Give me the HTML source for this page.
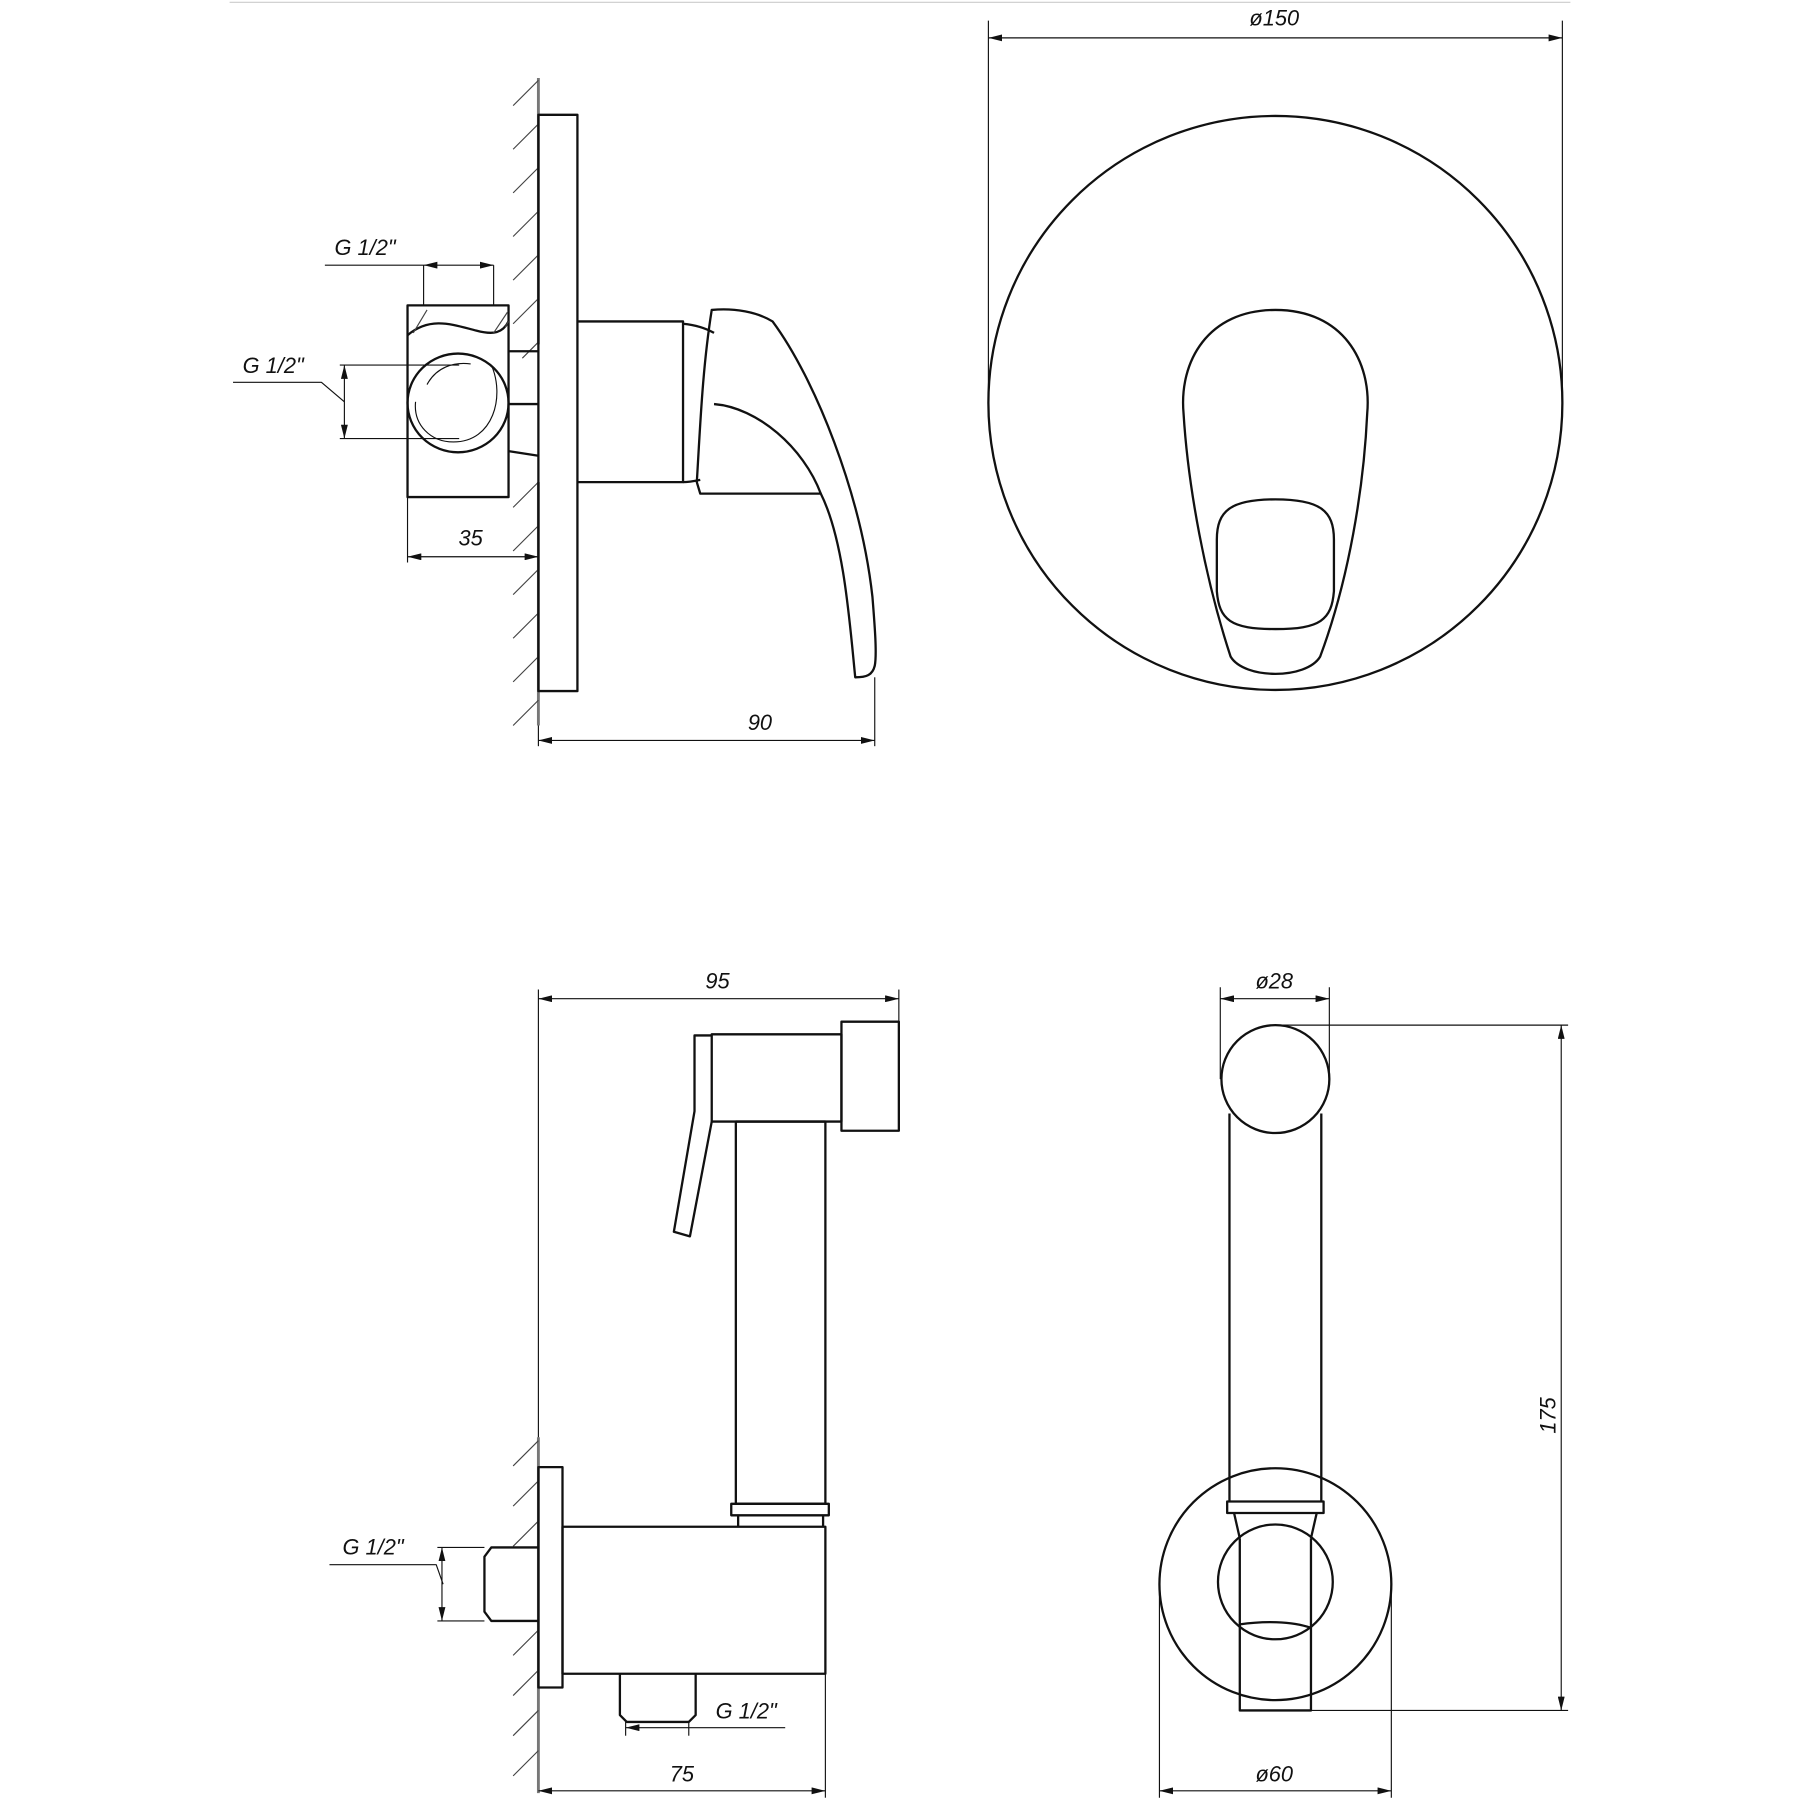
<!DOCTYPE html>
<html><head><meta charset="utf-8"><style>
html,body{margin:0;padding:0;background:#fff;}
svg{display:block;}
text{font-family:"Liberation Sans",sans-serif;font-style:italic;font-size:19px;fill:#111;}
</style></head><body>
<svg width="1800" height="1800" viewBox="0 0 1568 1568" xmlns="http://www.w3.org/2000/svg">
<defs>
<marker id="a" viewBox="0 0 12 6" refX="12" refY="3" markerWidth="12" markerHeight="6" orient="auto-start-reverse" markerUnits="userSpaceOnUse"><path d="M0,0 L12,3 L0,6 Z" fill="#111"/></marker>
</defs>
<line x1="200" y1="2" x2="1368" y2="2" stroke="#ccc" stroke-width="1"/>
<g fill="none" stroke="#111" stroke-width="2" stroke-linejoin="round">
<!-- TOP LEFT -->
<line x1="469" y1="68" x2="469" y2="300" stroke="#777" stroke-width="2.5"/>
<line x1="469" y1="420" x2="469" y2="632" stroke="#777" stroke-width="2.5"/>
<g stroke-width="1" stroke="#444">
<path d="M469,70 L447,92 M469,108 L447,130 M469,146 L447,168 M469,184 L447,206 M469,222 L447,244 M469,260 L447,282 M469,298 L455,312 M469,420 L447,442 M469,458 L447,480 M469,496 L447,518 M469,534 L447,556 M469,572 L447,594 M469,610 L447,632"/>
</g>
<rect x="469" y="100" width="34" height="502"/>
<path d="M503,280 H595 V420 H503"/>
<path d="M595,282 C605,283 615,286 622,290 M595,420 C600,420 605,419 610,418"/>
<path d="M610,430 L607,420 C610,370 612,320 620,270 C640,268 660,272 673,280 C710,330 750,430 760,520 C762,545 764,570 762,580 C760,588 755,590 745,590 C740,540 735,470 715,430 Z"/>
<path d="M622,352 C660,355 700,390 715,430"/>
<!-- fitting -->
<rect x="355" y="266" width="88" height="167"/>
<path d="M355,292 C375,275 395,283 415,288 C430,292 438,290 443,280"/>
<g stroke-width="1" stroke="#444"><path d="M360,290 L372,270 M430,290 L442,272 M440,285 L443,280"/></g>
<line x1="369" y1="231" x2="369" y2="266" stroke-width="1"/>
<line x1="430" y1="231" x2="430" y2="266" stroke-width="1"/>
<ellipse cx="399" cy="351" rx="44" ry="43"/>
<path d="M428,318 C440,345 430,385 395,385 C375,385 360,370 362,350 M372,335 C380,320 395,315 410,317" stroke-width="1"/>
<path d="M443,306 H469 M443,352 H469 M443,393 L469,397"/>
<!-- dims -->
<g stroke-width="1">
<line x1="283" y1="231" x2="369" y2="231"/>
<line x1="369" y1="231" x2="430" y2="231" marker-start="url(#a)" marker-end="url(#a)"/>
<path d="M203,333 H280 L300,350"/>
<line x1="300" y1="318" x2="300" y2="382" marker-start="url(#a)" marker-end="url(#a)"/>
<line x1="296" y1="318" x2="400" y2="318"/>
<line x1="296" y1="382" x2="400" y2="382"/>
<line x1="355" y1="433" x2="355" y2="490"/>
<line x1="355" y1="485" x2="469" y2="485" marker-start="url(#a)" marker-end="url(#a)"/>
<line x1="469" y1="632" x2="469" y2="650"/>
<line x1="762" y1="590" x2="762" y2="650"/>
<line x1="469" y1="645" x2="762" y2="645" marker-start="url(#a)" marker-end="url(#a)"/>
</g>
<!-- TOP RIGHT -->
<circle cx="1111" cy="351" r="250"/>
<path d="M1111,270 C1170,270 1195,315 1191,360 C1188,425 1175,505 1150,572 C1138,592 1084,592 1072,572 C1050,505 1035,425 1031,360 C1027,315 1052,270 1111,270 Z"/>
<path d="M1111,435 C1150,435 1162,445 1162,470 L1162,515 C1160,540 1150,548 1111,548 C1072,548 1062,540 1060,515 L1060,470 C1060,445 1072,435 1111,435 Z"/>
<g stroke-width="1">
<line x1="861" y1="18" x2="861" y2="351"/>
<line x1="1361" y1="18" x2="1361" y2="351"/>
<line x1="861" y1="33" x2="1361" y2="33" marker-start="url(#a)" marker-end="url(#a)"/>
</g>
<!-- BOTTOM LEFT -->
<line x1="469" y1="1252" x2="469" y2="1562" stroke="#777" stroke-width="2.5"/>
<g stroke-width="1" stroke="#444">
<path d="M469,1255 L447,1277 M469,1290 L447,1312 M469,1325 L447,1347 M469,1420 L447,1442 M469,1455 L447,1477 M469,1490 L447,1512 M469,1525 L447,1547"/>
</g>
<rect x="469" y="1278" width="21" height="192"/>
<rect x="490" y="1330" width="229" height="128"/>
<path d="M469,1348 H428 L422,1356 V1404 L428,1412 H469"/>
<path d="M540,1458 V1494 L546,1500 H600 L606,1494 V1458"/>
<rect x="641" y="977" width="78" height="333"/>
<rect x="637" y="1310" width="85" height="10"/>
<path d="M643,1320 V1330 M717,1320 V1330"/>
<rect x="620" y="901" width="113" height="76"/>
<rect x="733" y="890" width="50" height="95"/>
<path d="M620,902 H605 V968 L587,1073 L601,1077 L620,977"/>
<g stroke-width="1">
<line x1="469" y1="862" x2="469" y2="1252"/>
<line x1="783" y1="862" x2="783" y2="890"/>
<line x1="469" y1="870" x2="783" y2="870" marker-start="url(#a)" marker-end="url(#a)"/>
<path d="M287,1363 H380 L386,1380"/>
<line x1="385" y1="1348" x2="385" y2="1412" marker-start="url(#a)" marker-end="url(#a)"/>
<line x1="381" y1="1348" x2="422" y2="1348"/>
<line x1="381" y1="1412" x2="422" y2="1412"/>
<line x1="545" y1="1500" x2="545" y2="1512"/>
<line x1="600" y1="1500" x2="600" y2="1512"/>
<line x1="545" y1="1505" x2="600" y2="1505" marker-start="url(#a)"/>
<line x1="600" y1="1505" x2="684" y2="1505"/>
<line x1="719" y1="1458" x2="719" y2="1566"/>
<line x1="469" y1="1560" x2="719" y2="1560" marker-start="url(#a)" marker-end="url(#a)"/>
</g>
<!-- BOTTOM RIGHT -->
<circle cx="1111" cy="1380" r="101"/>
<rect x="1069" y="1308" width="84" height="10"/>
<path d="M1071,1308 V970 M1151,1308 V970"/>
<circle cx="1111" cy="940" r="47" fill="#fff"/>
<path d="M1075,1318 L1080,1340 M1147,1318 L1142,1340"/>
<circle cx="1111" cy="1378" r="50"/>
<path d="M1080,1340 V1490 H1142 V1340 M1080,1415 C1100,1412 1125,1412 1142,1418"/>
<g stroke-width="1">
<line x1="1063" y1="860" x2="1063" y2="940"/>
<line x1="1158" y1="860" x2="1158" y2="940"/>
<line x1="1063" y1="870" x2="1158" y2="870" marker-start="url(#a)" marker-end="url(#a)"/>
<line x1="1111" y1="893" x2="1366" y2="893"/>
<line x1="1140" y1="1490" x2="1366" y2="1490"/>
<line x1="1360" y1="893" x2="1360" y2="1490" marker-start="url(#a)" marker-end="url(#a)"/>
<line x1="1010" y1="1380" x2="1010" y2="1566"/>
<line x1="1212" y1="1380" x2="1212" y2="1566"/>
<line x1="1010" y1="1560" x2="1212" y2="1560" marker-start="url(#a)" marker-end="url(#a)"/>
</g>
</g>
<text x="318" y="222" text-anchor="middle">G 1/2"</text>
<text x="238" y="325" text-anchor="middle">G 1/2"</text>
<text x="410" y="475" text-anchor="middle">35</text>
<text x="662" y="636" text-anchor="middle">90</text>
<text x="1110" y="22" text-anchor="middle">ø150</text>
<text x="625" y="861" text-anchor="middle">95</text>
<text x="1110" y="861" text-anchor="middle">ø28</text>
<text x="325" y="1354" text-anchor="middle">G 1/2"</text>
<text x="650" y="1497" text-anchor="middle">G 1/2"</text>
<text x="594" y="1552" text-anchor="middle">75</text>
<text x="1110" y="1552" text-anchor="middle">ø60</text>
<text transform="translate(1355,1233) rotate(-90)" text-anchor="middle">175</text>
</svg>
</body></html>
